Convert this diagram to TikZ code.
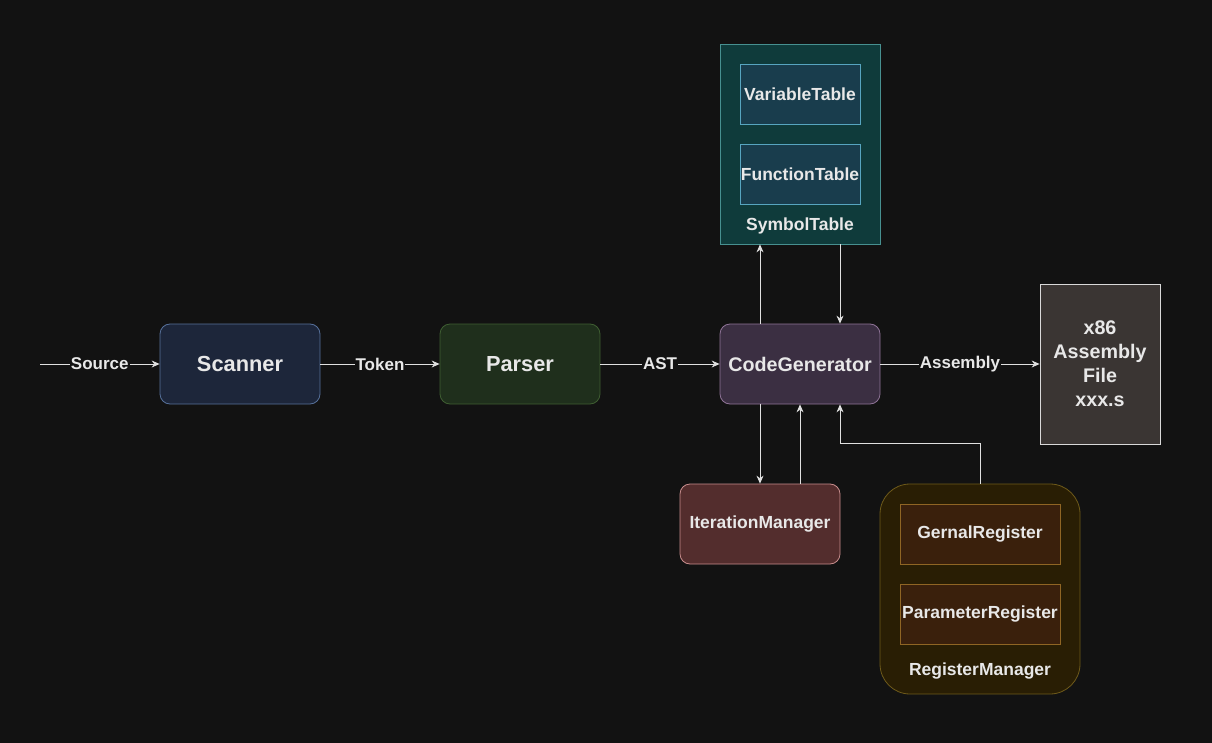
\documentclass[tikz,border=0pt]{standalone}
\usepackage{fontspec}
\setmainfont{Liberation Sans}
\usetikzlibrary{arrows.meta}
\definecolor{bg}{HTML}{121212}
\definecolor{txt}{HTML}{E8E8E8}
\definecolor{ln}{HTML}{E0E0E0}
\definecolor{scF}{HTML}{1D263A}\definecolor{scD}{HTML}{56709A}
\definecolor{paF}{HTML}{1F2F1C}\definecolor{paD}{HTML}{3F5E32}
\definecolor{cgF}{HTML}{3B2F42}\definecolor{cgD}{HTML}{8F7397}
\definecolor{xfF}{HTML}{3A3533}\definecolor{xfD}{HTML}{D9D9D9}
\definecolor{syF}{HTML}{0F3B3B}\definecolor{syD}{HTML}{479090}
\definecolor{tbF}{HTML}{193D4D}\definecolor{tbD}{HTML}{57A5C0}
\definecolor{itF}{HTML}{532D2D}\definecolor{itD}{HTML}{C88D8D}
\definecolor{rgF}{HTML}{291E04}\definecolor{rgD}{HTML}{6E5A1A}
\definecolor{riF}{HTML}{3A200C}\definecolor{riD}{HTML}{8F6524}
\begin{document}
\begin{tikzpicture}[x=1pt,y=-1pt,
  box/.style={inner sep=0pt,text=txt,font=\bfseries\fontsize{17.5}{21}\selectfont,align=center,line width=0.8pt},
  mainbox/.style={box,rounded corners=10pt,minimum width=160pt,minimum height=80pt},
  arr/.style={draw=ln,line width=0.8pt,-{Stealth[length=8pt,width=7pt]}},
  lbl/.style={fill=bg,text=txt,inner sep=1pt,font=\bfseries\fontsize{17}{20}\selectfont}]
\fill[bg] (0,0) rectangle (1212,743);
\useasboundingbox (0,0) rectangle (1212,743);
% main boxes
\node[mainbox,fill=scF,draw=scD,font=\bfseries\fontsize{21.8}{25}\selectfont] (sc) at (240,364) {Scanner};
\node[mainbox,fill=paF,draw=paD,font=\bfseries\fontsize{21.8}{25}\selectfont] (pa) at (520,364) {Parser};
\node[mainbox,fill=cgF,draw=cgD,font=\bfseries\fontsize{19.7}{24}\selectfont] (cg) at (800,364) {CodeGenerator};
\node[box,fill=xfF,draw=xfD,minimum width=120pt,minimum height=160pt,font=\bfseries\fontsize{19.7}{24}\selectfont] (xf) at (1100,364) {x86\\Assembly\\File\\xxx.s};
% symbol table
\node[box,fill=syF,draw=syD,minimum width=160pt,minimum height=200pt] (sy) at (800,144) {};
\node[box,fill=tbF,draw=tbD,minimum width=120pt,minimum height=60pt] (vt) at (800,94) {VariableTable};
\node[box,fill=tbF,draw=tbD,minimum width=120pt,minimum height=60pt] (ft) at (800,174) {FunctionTable};
\node[box] (syl) at (800,226) {SymbolTable};
% iteration manager
\node[mainbox,fill=itF,draw=itD] (it) at (760,524) {IterationManager};
% register manager
\node[box,rounded corners=30pt,fill=rgF,draw=rgD,minimum width=200pt,minimum height=210pt] (rg) at (980,589) {};
\node[box,fill=riF,draw=riD,minimum width=160pt,minimum height=60pt] (gr) at (980,534) {GernalRegister};
\node[box,fill=riF,draw=riD,minimum width=160pt,minimum height=60pt] (pr) at (980,614) {ParameterRegister};
\node[box] (rgl) at (980,671) {RegisterManager};
% connectors
\coordinate (src) at (40,364);
\draw[arr] (src) -- node[lbl]{Source} (sc.west);
\draw[arr] (sc.east) -- node[lbl]{Token} (pa.west);
\draw[arr] (pa.east) -- node[lbl]{AST} (cg.west);
\draw[arr] (cg.east) -- node[lbl]{Assembly} (xf.west);
\draw[arr] ([xshift=-40pt]cg.north) -- ([xshift=-40pt]sy.south);
\draw[arr] ([xshift=40pt]sy.south) -- ([xshift=40pt]cg.north);
\draw[arr] ([xshift=-40pt]cg.south) -- (it.north);
\draw[arr] ([xshift=40pt]it.north) -- (cg.south);
\draw[arr] (rg.north) -- ++(0,-40) -| ([xshift=40pt]cg.south);
\end{tikzpicture}
\end{document}
